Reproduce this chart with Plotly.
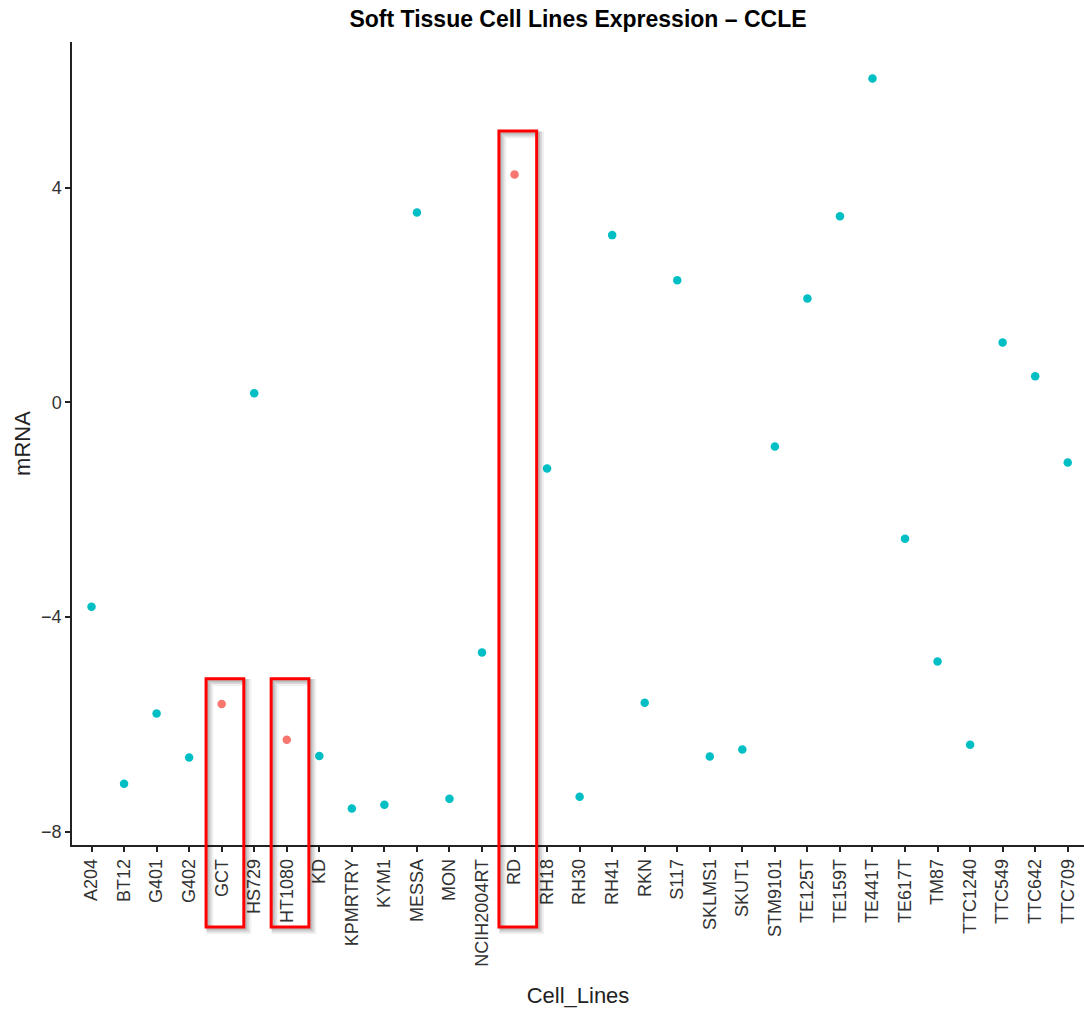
import plotly.graph_objects as go

# Cell line names (x categories)
cell_lines = [
    "A204", "BT12", "G401", "G402", "GCT", "HS729", "HT1080", "KD", "KPMRTRY",
    "KYM1", "MESSA", "MON", "NCIH2004RT", "RD", "RH18", "RH30", "RH41", "RKN",
    "S117", "SKLMS1", "SKUT1", "STM9101", "TE125T", "TE159T", "TE441T",
    "TE617T", "TM87", "TTC1240", "TTC549", "TTC642", "TTC709",
]

# mRNA expression per cell line
mrna = [
    -3.81, -7.11, -5.80, -6.62, -5.62, 0.17, -6.29, -6.59, -7.57,
    -7.50, 3.54, -7.39, -4.66, 4.25, -1.23, -7.35, 3.12, -5.60,
    2.28, -6.60, -6.47, -0.82, 1.94, 3.47, 6.04,
    -2.54, -4.83, -6.38, 1.12, 0.49, -1.12,
]

# Cell lines of interest, drawn in the second colour and boxed
highlighted = ["GCT", "HT1080", "RD"]
# Top edge of each highlight box, in mRNA units
box_tops = [-5.15, -5.15, 5.06]

y_ticks = [-8, -4, 0, 4]

TEAL = "#00BFC4"
SALMON = "#F8766D"

# ggplot-style 5% padding of the y range
lo, hi = min(mrna), max(mrna)
pad = 0.05 * (hi - lo)
y_range = [lo - pad, hi + pad]

colors = [SALMON if c in highlighted else TEAL for c in cell_lines]

fig = go.Figure()
fig.add_trace(go.Scatter(
    x=cell_lines, y=mrna, mode="markers",
    marker=dict(color=colors, size=8.5, line=dict(width=0)),
    showlegend=False,
))


def to_paper(v):
    return (v - y_range[0]) / (y_range[1] - y_range[0])


box_bottom = -0.102
half = 0.58
shift = 0.1
for name, top in zip(highlighted, box_tops):
    i = cell_lines.index(name) + shift
    # soft drop shadow
    for off, alpha, w in [(0.12, 0.06, 7), (0.09, 0.10, 5), (0.06, 0.12, 3)]:
        fig.add_shape(
            type="rect", xref="x", yref="paper",
            x0=i - half + off, x1=i + half + off,
            y0=box_bottom - off * 0.04, y1=to_paper(top) - off * 0.04,
            line=dict(color=f"rgba(0,0,0,{alpha})", width=w),
            fillcolor="rgba(0,0,0,0)", layer="above",
        )
    fig.add_shape(
        type="rect", xref="x", yref="paper",
        x0=i - half, x1=i + half,
        y0=box_bottom, y1=to_paper(top),
        line=dict(color="#FF0000", width=3),
        fillcolor="rgba(0,0,0,0)", layer="above",
    )

axis_font = dict(family="Liberation Sans, Arial, sans-serif", size=18, color="#333333")

fig.update_layout(
    width=1084, height=1009,
    margin=dict(l=72, r=0, t=42, b=164),
    paper_bgcolor="white", plot_bgcolor="white",
    font=dict(family="Liberation Sans, Arial, sans-serif", color="#000000"),
    title=dict(
        text="<b>Soft Tissue Cell Lines Expression – CCLE</b>",
        x=0.5, xref="paper", xanchor="center",
        y=1 - 19 / 1009, yanchor="middle",
        font=dict(size=23, color="#000000"),
    ),
    xaxis=dict(
        type="category", categoryorder="array", categoryarray=cell_lines,
        range=[-0.6, 30.5],
        showline=True, linecolor="#222222", linewidth=1.5,
        ticks="outside", ticklen=5, tickwidth=1.5, tickcolor="#222222",
        tickangle=-90, tickfont=axis_font,
        showgrid=False, zeroline=False,
        title=dict(text="Cell_Lines", font=dict(size=22, color="#222222"), standoff=22),
        automargin=False,
    ),
    yaxis=dict(
        range=y_range, tickvals=y_ticks,
        ticktext=[str(v).replace("-", "−") for v in y_ticks],
        showline=True, linecolor="#222222", linewidth=1.5,
        ticks="outside", ticklen=5, tickwidth=1.5, tickcolor="#222222",
        tickfont=axis_font,
        showgrid=False, zeroline=False,
        title=dict(text="mRNA", font=dict(size=22, color="#222222"), standoff=4),
        automargin=False,
    ),
)

fig.write_html("out.html")
